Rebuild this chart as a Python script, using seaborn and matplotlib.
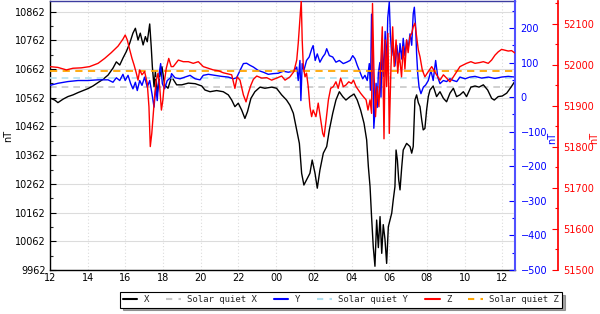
import numpy as np
import pandas as pd
import matplotlib
matplotlib.use("Agg")
import matplotlib.pyplot as plt
from matplotlib.ticker import MultipleLocator, FixedLocator, FuncFormatter
from matplotlib.lines import Line2D
import seaborn as sns

# ---------------- data (hours since 12:00 of day 1) ----------------
x_time = [12.0, 12.25, 12.42, 12.69, 12.95, 13.22, 13.49, 13.75, 14.02, 14.28, 14.55, 14.81, 15.08, 15.34,
          15.52, 15.7, 15.87, 16.05, 16.23, 16.4, 16.53, 16.67, 16.79, 16.94, 17.06, 17.16, 17.29, 17.37,
          17.43, 17.52, 17.59, 17.69, 17.82, 17.94, 18.08, 18.26, 18.45, 18.72, 18.99, 19.34, 19.7, 20.05,
          20.22, 20.49, 20.84, 21.19, 21.46, 21.64, 21.81, 21.99, 22.17, 22.34, 22.48, 22.66, 22.87, 23.14,
          23.4, 23.76, 24.02, 24.29, 24.55, 24.73, 24.91, 25.09, 25.23, 25.35, 25.47, 25.61, 25.79, 25.91,
          26.06, 26.18, 26.32, 26.5, 26.68, 26.82, 27.0, 27.17, 27.35, 27.53, 27.7, 27.92, 28.13, 28.3,
          28.48, 28.66, 28.8, 28.89, 28.98, 29.06, 29.15, 29.24, 29.33, 29.42, 29.51, 29.6, 29.68, 29.77,
          29.86, 29.95, 30.04, 30.13, 30.21, 30.3, 30.36, 30.43, 30.5, 30.57, 30.66, 30.74, 30.92, 31.1,
          31.19, 31.27, 31.36, 31.45, 31.54, 31.63, 31.72, 31.8, 31.89, 31.98, 32.07, 32.16, 32.33, 32.51,
          32.69, 32.87, 33.04, 33.22, 33.4, 33.57, 33.75, 33.93, 34.1, 34.33, 34.55, 34.76, 34.99, 35.22,
          35.43, 35.57, 35.78, 35.99, 36.23, 36.46, 36.67]
x_values = [10561, 10554, 10545, 10557, 10566, 10572, 10580, 10587, 10594, 10603, 10615, 10626, 10641, 10665,
            10687, 10676, 10700, 10723, 10752, 10787, 10804, 10763, 10787, 10746, 10775, 10757, 10819, 10740,
            10670, 10600, 10653, 10578, 10635, 10670, 10607, 10595, 10635, 10607, 10607, 10613, 10611, 10603,
            10589, 10583, 10587, 10583, 10572, 10554, 10531, 10543, 10519, 10490, 10514, 10560, 10583, 10599,
            10595, 10599, 10595, 10572, 10554, 10536, 10508, 10450, 10403, 10299, 10258, 10276, 10299, 10345,
            10299, 10247, 10310, 10369, 10392, 10450, 10508, 10554, 10583, 10566, 10554, 10566, 10575, 10554,
            10519, 10473, 10415, 10322, 10252, 10148, 10043, 9975, 10136, 10040, 10148, 10020, 10120, 10070,
            9985, 10113, 10136, 10160, 10206, 10252, 10380, 10345, 10276, 10241, 10320, 10380, 10403, 10392,
            10369, 10392, 10554, 10572, 10545, 10531, 10485, 10450, 10455, 10519, 10566, 10589, 10603, 10566,
            10583, 10560, 10548, 10578, 10595, 10566, 10572, 10583, 10566, 10599, 10603, 10599, 10607, 10589,
            10560, 10554, 10566, 10568, 10578, 10599, 10620]

y_time = [12.0, 12.42, 12.95, 13.49, 14.02, 14.55, 15.08, 15.34, 15.52, 15.7, 15.87, 15.99, 16.14, 16.28,
          16.4, 16.53, 16.63, 16.76, 16.88, 17.02, 17.16, 17.29, 17.41, 17.52, 17.61, 17.69, 17.78, 17.87,
          17.96, 18.08, 18.22, 18.4, 18.45, 18.63, 18.9, 19.16, 19.43, 19.7, 19.96, 20.13, 20.4, 20.75, 21.1,
          21.46, 21.72, 21.9, 22.08, 22.26, 22.43, 22.61, 22.79, 23.05, 23.32, 23.58, 23.85, 24.11, 24.38,
          24.64, 24.91, 25.09, 25.17, 25.26, 25.31, 25.38, 25.47, 25.61, 25.75, 25.89, 25.96, 26.07, 26.18,
          26.32, 26.47, 26.59, 26.68, 26.82, 27.0, 27.17, 27.35, 27.56, 27.74, 27.92, 28.06, 28.18, 28.3,
          28.45, 28.59, 28.71, 28.83, 28.94, 29.0, 29.06, 29.12, 29.18, 29.24, 29.3, 29.36, 29.42, 29.5,
          29.56, 29.62, 29.7, 29.78, 29.85, 29.92, 30.0, 30.06, 30.13, 30.2, 30.3, 30.4, 30.5, 30.57, 30.66,
          30.74, 30.83, 30.92, 31.0, 31.1, 31.19, 31.27, 31.33, 31.4, 31.45, 31.51, 31.58, 31.68, 31.81,
          31.93, 32.07, 32.21, 32.33, 32.46, 32.57, 32.69, 32.87, 33.04, 33.22, 33.4, 33.58, 33.75, 34.02,
          34.28, 34.55, 34.9, 35.25, 35.61, 35.96, 36.31, 36.67]
y_values = [34, 40, 45, 48, 48, 50, 50, 43, 56, 48, 66, 48, 63, 39,
            24, 43, 19, 48, 34, 58, 29, 48, 10, -29, 29, -10, 63, 97,
            39, 24, 48, 56, 68, 56, 53, 58, 63, 53, 50, 63, 66, 63, 60,
            58, 53, 56, 77, 97, 98, 92, 87, 77, 72, 66, 68, 69, 75,
            72, 75, 87, 48, 106, -10, 97, 77, 106, 116, 140, 149, 106, 125,
            101, 116, 125, 140, 120, 116, 101, 106, 97, 101, 106, 120, 111, 92,
            72, 53, 63, 48, 97, 20, 240, 120, -90, -40, 40, -30, 70, 100,
            0, 150, 60, 190, 80, 230, 275, 180, 120, 150, 90, 150, 100, 155, 110,
            170, 120, 165, 140, 183, 150, 241, 260, 202, 125, 68, 29, 10, 29,
            35, 48, 77, 48, 106, 58, 39, 48, 45, 53, 48, 45, 58, 53,
            58, 60, 55, 58, 54, 58, 60, 58]

z_time = [12.0, 12.42, 12.87, 13.22, 13.66, 14.1, 14.55, 14.9, 15.25, 15.61, 15.87, 15.99, 16.1, 16.23,
          16.35, 16.46, 16.58, 16.67, 16.76, 16.88, 17.02, 17.16, 17.25, 17.32, 17.4, 17.47, 17.55, 17.64,
          17.73, 17.82, 17.91, 17.99, 18.08, 18.17, 18.3, 18.43, 18.54, 18.81, 19.07, 19.34, 19.6, 19.87,
          20.13, 20.4, 20.66, 20.93, 21.19, 21.46, 21.64, 21.81, 21.93, 22.08, 22.26, 22.4, 22.52, 22.66,
          22.79, 22.97, 23.23, 23.5, 23.76, 24.02, 24.29, 24.47, 24.73, 24.94, 25.09, 25.17, 25.26, 25.33,
          25.38, 25.44, 25.53, 25.61, 25.7, 25.79, 25.88, 25.96, 26.11, 26.23, 26.36, 26.47, 26.54, 26.65,
          26.77, 26.89, 27.03, 27.17, 27.29, 27.42, 27.56, 27.7, 27.85, 27.99, 28.1, 28.24, 28.36, 28.48,
          28.62, 28.77, 28.87, 28.98, 29.06, 29.11, 29.18, 29.27, 29.36, 29.45, 29.54, 29.63, 29.72, 29.79,
          29.86, 29.93, 30.0, 30.09, 30.18, 30.26, 30.36, 30.45, 30.53, 30.65, 30.74, 30.83, 30.92, 31.0,
          31.1, 31.19, 31.27, 31.36, 31.45, 31.54, 31.63, 31.75, 31.89, 32.07, 32.25, 32.51, 32.69, 32.87,
          33.04, 33.22, 33.4, 33.58, 33.75, 33.93, 34.1, 34.33, 34.55, 34.81, 34.99, 35.25, 35.43, 35.61,
          35.78, 35.96, 36.13, 36.31, 36.49, 36.67]
z_values = [51996, 51994, 51988, 51992, 51993, 51996, 52004, 52016, 52030, 52046, 52063, 52073, 52061, 52037,
            52016, 52000, 51980, 51963, 51988, 51976, 51984, 51955, 51898, 51801, 51833, 51874, 51923, 51963,
            51980, 51947, 51890, 51915, 51963, 51992, 52016, 51996, 51996, 52012, 52008, 52008, 52004, 52008,
            51996, 51992, 51988, 51986, 51981, 51978, 51976, 51943, 51971, 51963, 51927, 51910, 51931, 51951,
            51965, 51973, 51968, 51969, 51963, 51968, 51973, 51963, 51971, 51984, 52012, 52053, 52110, 52158,
            52061, 51996, 51971, 51980, 51947, 51898, 51874, 51890, 51874, 51907, 51866, 51833, 51825, 51866,
            51915, 51943, 51947, 51959, 51943, 51968, 51947, 51951, 51959, 51955, 51963, 51947, 51939, 51931,
            51923, 51915, 51890, 51915, 51882, 52150, 51996, 51874, 51947, 51898, 51996, 52093, 51820, 52061,
            51947, 52077, 51833, 51996, 52093, 51996, 52061, 51980, 52029, 51971, 52045, 51990, 52061, 52030,
            52070, 52077, 52093, 52102, 52069, 52037, 52020, 51988, 51971, 51984, 51996, 51976, 51963, 51976,
            51968, 51959, 51971, 51984, 51996, 52000, 52004, 52008, 52004, 52006, 52008, 52004, 52012, 52024,
            52032, 52038, 52036, 52034, 52035, 52029]

sq_time = [12.0, 36.67]
sq_x = [10600, 10600]
sq_y = [55, 55]
sq_z = [51985, 51985]

x_ticks = [12, 14, 16, 18, 20, 22, 24, 26, 28, 30, 32, 34, 36]
x_ticklabels = ["12", "14", "16", "18", "20", "22", "00", "02", "04", "06", "08", "10", "12"]
left_ticks = [9962, 10062, 10162, 10262, 10362, 10462, 10562, 10662, 10762, 10862]
y_ticks = [-500, -400, -300, -200, -100, 0, 100, 200]
z_ticks = [51500, 51600, 51700, 51800, 51900, 52000, 52100]
legend_labels = ["X", "Solar quiet X", "Y", "Solar quiet Y", "Z", "Solar quiet Z"]

# ---------------- figure ----------------
sns.set_theme(style="white")
plt.rcParams["font.family"] = ["DejaVu Sans"]

fig = plt.figure(figsize=(6.0, 3.14), dpi=100)
W, H = 600.0, 314.0
ax = fig.add_axes([50 / W, 44 / H, 465 / W, 269 / H])
ax_y = ax.twinx()
ax_z = ax.twinx()

BLUE = "#0000ff"
RED = "#ff0000"
SQX = "#c8c8c8"
SQY = "#b0e0f0"
SQZ = "#ffa500"

df_x = pd.DataFrame({"t": x_time, "v": x_values})
df_y = pd.DataFrame({"t": y_time, "v": y_values})
df_z = pd.DataFrame({"t": z_time, "v": z_values})
df_sq = pd.DataFrame({"t": sq_time, "x": sq_x, "y": sq_y, "z": sq_z})

sns.lineplot(data=df_sq, x="t", y="x", ax=ax, color=SQX, linewidth=1.2,
             linestyle=(0, (4, 3)), estimator=None, sort=False)
sns.lineplot(data=df_x, x="t", y="v", ax=ax, color="black", linewidth=1.0,
             estimator=None, sort=False)
sns.lineplot(data=df_sq, x="t", y="y", ax=ax_y, color=SQY, linewidth=1.2,
             linestyle=(0, (4, 3)), estimator=None, sort=False)
sns.lineplot(data=df_y, x="t", y="v", ax=ax_y, color=BLUE, linewidth=1.0,
             estimator=None, sort=False)
sns.lineplot(data=df_sq, x="t", y="z", ax=ax_z, color=SQZ, linewidth=1.3,
             linestyle=(0, (4, 3)), estimator=None, sort=False)
sns.lineplot(data=df_z, x="t", y="v", ax=ax_z, color=RED, linewidth=1.0,
             estimator=None, sort=False)

ax.set_xlim(12, 36.67)
ax.set_ylim(9962, 10899)
ax_y.set_ylim(-500, 278)
ax_z.set_ylim(51500, 52156)

for a in (ax, ax_y, ax_z):
    a.set_xlabel("")
    a.set_ylabel("")

# x axis
ax.xaxis.set_major_locator(FixedLocator(x_ticks))
ax.set_xticklabels(x_ticklabels)
ax.xaxis.set_minor_locator(MultipleLocator(1))
ax.tick_params(axis="x", which="major", direction="in", length=4, width=0.8, labelsize=7, pad=2, colors="black")
ax.tick_params(axis="x", which="minor", direction="in", length=2, width=0.8)

# left axis
ax.yaxis.set_major_locator(FixedLocator(left_ticks))
ax.yaxis.set_minor_locator(FixedLocator([v + 50 for v in left_ticks]))
ax.yaxis.set_major_formatter(FuncFormatter(lambda v, p: f"{int(round(v))}"))
ax.tick_params(axis="y", which="major", direction="in", length=4, width=0.8, labelsize=7, pad=3, colors="black")
ax.tick_params(axis="y", which="minor", direction="in", length=2, width=0.8)

# blue axis
ax_y.yaxis.set_major_locator(FixedLocator(y_ticks))
ax_y.yaxis.set_minor_locator(FixedLocator([v + 50 for v in y_ticks]))
ax_y.tick_params(axis="y", which="major", direction="in", length=4, width=0.8, labelsize=7, pad=4,
                 colors=BLUE)
ax_y.tick_params(axis="y", which="minor", direction="in", length=2, width=0.8, colors=BLUE)

# red axis
ax_z.spines["right"].set_position(("outward", 31))
ax_z.yaxis.set_major_locator(FixedLocator(z_ticks))
ax_z.yaxis.set_minor_locator(FixedLocator([v + 50 for v in z_ticks]))
ax_z.tick_params(axis="y", which="major", direction="in", length=4, width=0.8, labelsize=7, pad=4,
                 colors=RED)
ax_z.tick_params(axis="y", which="minor", direction="in", length=2, width=0.8, colors=RED)

# grid
ax.grid(True, axis="y", which="major", color="#dcdcdc", linewidth=0.8, linestyle="-")
ax.grid(True, axis="x", which="major", color="#dcdcdc", linewidth=0.8, linestyle=(0, (1, 2)))
ax.set_axisbelow(True)

# spines
for a in (ax, ax_y, ax_z):
    for s in a.spines.values():
        s.set_visible(False)
ax.spines["left"].set_visible(True)
ax.spines["left"].set_color("black")
ax.spines["bottom"].set_visible(True)
ax.spines["bottom"].set_color("black")
ax.spines["top"].set_visible(True)
ax.spines["top"].set_color("#3c3ca0")
ax_y.spines["right"].set_visible(True)
ax_y.spines["right"].set_color("#5050ff")
ax_y.spines["right"].set_linewidth(1.5)
ax_z.spines["right"].set_visible(True)
ax_z.spines["right"].set_color(RED)
for s in ("left", "bottom", "top"):
    ax.spines[s].set_linewidth(1.0)

# axis labels
ax.text(-0.09, 0.5, "nT", transform=ax.transAxes, rotation=90, ha="center", va="center",
        fontsize=7, color="black")
ax.text(1.08, 0.49, "nT", transform=ax.transAxes, rotation=90, ha="center", va="center",
        fontsize=7, color=BLUE)
ax.text(1.17, 0.49, "nT", transform=ax.transAxes, rotation=90, ha="center", va="center",
        fontsize=7, color=RED)

# legend
handles = [
    Line2D([], [], color="black", linewidth=1.5),
    Line2D([], [], color=SQX, linewidth=1.5, linestyle=(0, (3, 3))),
    Line2D([], [], color=BLUE, linewidth=1.5),
    Line2D([], [], color=SQY, linewidth=1.5, linestyle=(0, (3, 3))),
    Line2D([], [], color=RED, linewidth=1.5),
    Line2D([], [], color=SQZ, linewidth=1.5, linestyle=(0, (3, 3))),
]
leg = fig.legend(handles, legend_labels, loc="center", bbox_to_anchor=(341 / W, 14 / H), ncol=6,
                 frameon=True, fancybox=False, shadow=True, framealpha=1,
                 prop={"family": "DejaVu Sans Mono", "size": 6.5},
                 handlelength=1.6, handletextpad=0.7, columnspacing=1.9,
                 borderpad=0.35, borderaxespad=0)
leg.get_frame().set_edgecolor("black")
leg.get_frame().set_linewidth(0.8)

fig.savefig("out.png", dpi=100)
